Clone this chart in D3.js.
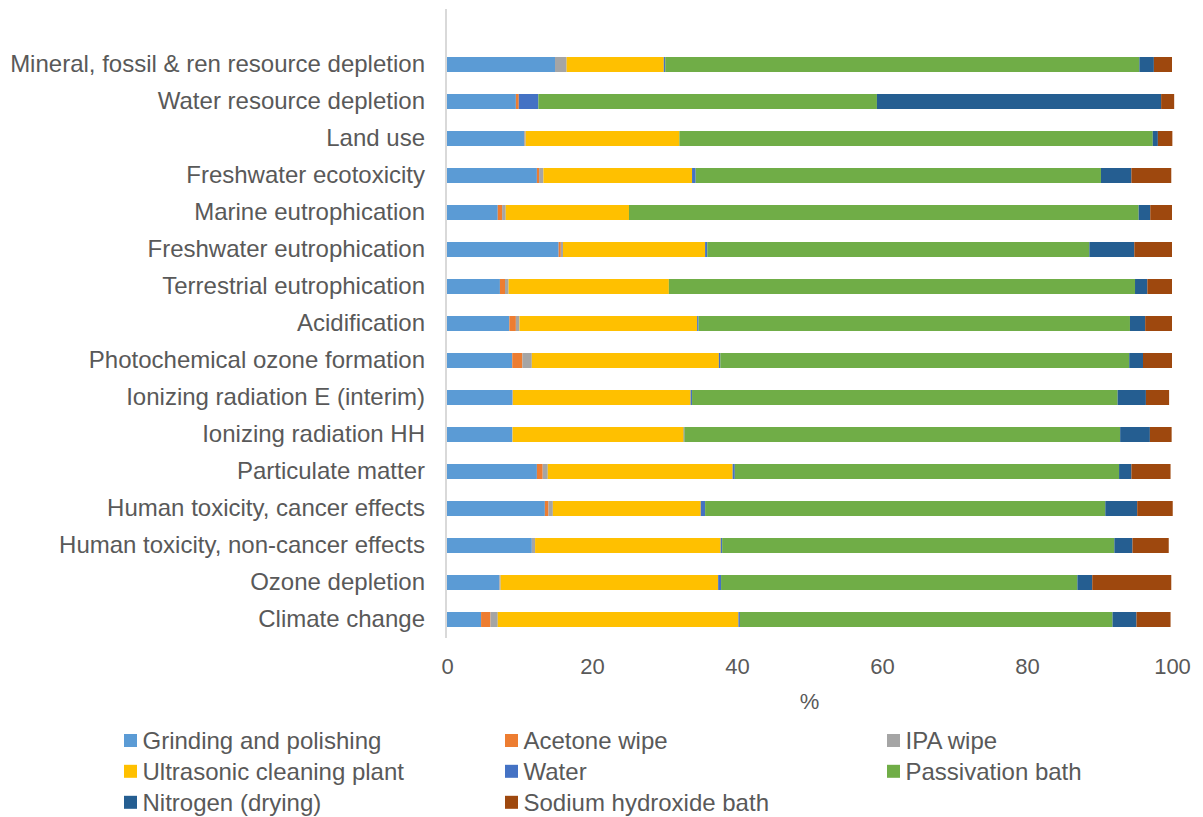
<!DOCTYPE html>
<html>
<head>
<meta charset="utf-8">
<script src="https://cdn.jsdelivr.net/npm/d3@7"></script>
<style>
  html, body { margin: 0; padding: 0; background: #fff; }
  svg { display: block; font-family: "Liberation Sans", Arial, sans-serif; }
</style>
</head>
<body>
<svg id="chart" width="1203" height="817"></svg>
<script>
// Categories, top to bottom as displayed
const categories = [
  "Mineral, fossil & ren resource depletion",
  "Water resource depletion",
  "Land use",
  "Freshwater ecotoxicity",
  "Marine eutrophication",
  "Freshwater eutrophication",
  "Terrestrial eutrophication",
  "Acidification",
  "Photochemical ozone formation",
  "Ionizing radiation E (interim)",
  "Ionizing radiation HH",
  "Particulate matter",
  "Human toxicity, cancer effects",
  "Human toxicity, non-cancer effects",
  "Ozone depletion",
  "Climate change"
];

const seriesNames = [
  "Grinding and polishing",
  "Acetone wipe",
  "IPA wipe",
  "Ultrasonic cleaning plant",
  "Water",
  "Passivation bath",
  "Nitrogen (drying)",
  "Sodium hydroxide bath"
];

const seriesColors = ["#5B9BD5", "#ED7D31", "#A5A5A5", "#FFC000", "#4472C4", "#70AD47", "#255E91", "#9E480E"];

const grinding    = [14.9, 9.5, 10.7, 12.4, 7.0, 15.4, 7.3, 8.6, 9.0, 9.0, 9.0, 12.4, 13.5, 11.7, 7.2, 4.7];
const acetone     = [0, 0.4, 0.05, 0.3, 0.6, 0.3, 0.7, 0.9, 1.4, 0, 0, 0.8, 0.5, 0, 0, 1.3];
const ipa         = [1.6, 0, 0.1, 0.6, 0.5, 0.3, 0.5, 0.5, 1.3, 0.1, 0.05, 0.7, 0.6, 0.45, 0.2, 1.0];
const ultrasonic  = [13.4, 0, 21.2, 20.5, 17.0, 19.6, 22.1, 24.5, 25.8, 24.5, 23.6, 25.5, 20.4, 25.6, 30.0, 33.2];
const water       = [0.2, 2.7, 0, 0.5, 0, 0.3, 0, 0.2, 0.2, 0.2, 0.1, 0.3, 0.6, 0.2, 0.4, 0.2];
const passivation = [65.4, 46.7, 65.3, 55.9, 70.3, 52.7, 64.3, 59.5, 56.4, 58.7, 60.1, 53.0, 55.2, 54.1, 49.15, 51.4];
const nitrogen    = [2.0, 39.2, 0.7, 4.2, 1.6, 6.2, 1.7, 2.1, 1.9, 3.9, 4.1, 1.7, 4.4, 2.5, 2.05, 3.3];
const sodium      = [2.5, 1.8, 2.0, 5.5, 3.0, 5.2, 3.4, 3.7, 4.0, 3.2, 3.0, 5.4, 4.9, 5.0, 10.9, 4.7];

const xTicks = [0, 20, 40, 60, 80, 100];
const xTitle = "%";

const seriesValues = [grinding, acetone, ipa, ultrasonic, water, passivation, nitrogen, sodium];

// Build table for d3.stack
const table = categories.map((c, i) => {
  const row = { category: c };
  seriesNames.forEach((s, j) => { row[s] = seriesValues[j][i]; });
  return row;
});

const svg = d3.select("#chart");
const textColor = "#595959";

const x = d3.scaleLinear().domain([0, 100]).range([447, 1172]);
const y = d3.scaleBand().domain(categories).range([46, 638])
  .paddingInner(0.595).paddingOuter(0.2975);

const color = d3.scaleOrdinal().domain(seriesNames).range(seriesColors);

const stacked = d3.stack().keys(seriesNames)(table);

// Bars
const layers = svg.append("g").selectAll("g")
  .data(stacked).join("g")
  .attr("fill", d => color(d.key));

layers.selectAll("rect")
  .data(d => d)
  .join("rect")
  .attr("x", d => x(d[0]))
  .attr("y", d => y(d.data.category))
  .attr("width", d => Math.max(0, x(d[1]) - x(d[0])))
  .attr("height", y.bandwidth());

// Vertical axis line
svg.append("line")
  .attr("x1", x(0) - 1).attr("x2", x(0) - 1)
  .attr("y1", 9).attr("y2", 638)
  .attr("stroke", "#D9D9D9").attr("stroke-width", 2);

// Y axis labels
const yAxis = svg.append("g")
  .attr("transform", `translate(${x(0) - 1},0)`)
  .call(d3.axisLeft(y).tickSize(0).tickPadding(21));
yAxis.select(".domain").remove();
yAxis.selectAll("text")
  .attr("fill", textColor)
  .style("font-size", "24px")
  .style("font-family", '"Liberation Sans", Arial, sans-serif');

// X axis labels
const xAxis = svg.append("g")
  .attr("transform", "translate(0,652)")
  .call(d3.axisBottom(x).tickValues(xTicks).tickSize(0).tickPadding(0));
xAxis.select(".domain").remove();
xAxis.selectAll("text")
  .attr("fill", textColor)
  .attr("dy", null)
  .attr("y", 22)
  .style("font-size", "22px")
  .style("font-family", '"Liberation Sans", Arial, sans-serif');

// X title
svg.append("text")
  .attr("x", (x(0) + x(100)) / 2)
  .attr("y", 709)
  .attr("text-anchor", "middle")
  .attr("fill", textColor)
  .style("font-size", "22px")
  .text(xTitle);

// Legend
const colX = [124, 505, 887];
const rowY = [740.5, 771.3, 802.3];
const legend = svg.append("g");
seriesNames.forEach((s, i) => {
  const cx = colX[i % 3], cy = rowY[Math.floor(i / 3)];
  const g = legend.append("g");
  g.append("rect")
    .attr("x", cx).attr("y", cy - 6.5)
    .attr("width", 13).attr("height", 13)
    .attr("fill", color(s));
  g.append("text")
    .attr("x", cx + 18.5).attr("y", cy)
    .attr("dy", "0.35em")
    .attr("fill", textColor)
    .style("font-size", "24px")
    .text(s);
});
</script>
</body>
</html>
